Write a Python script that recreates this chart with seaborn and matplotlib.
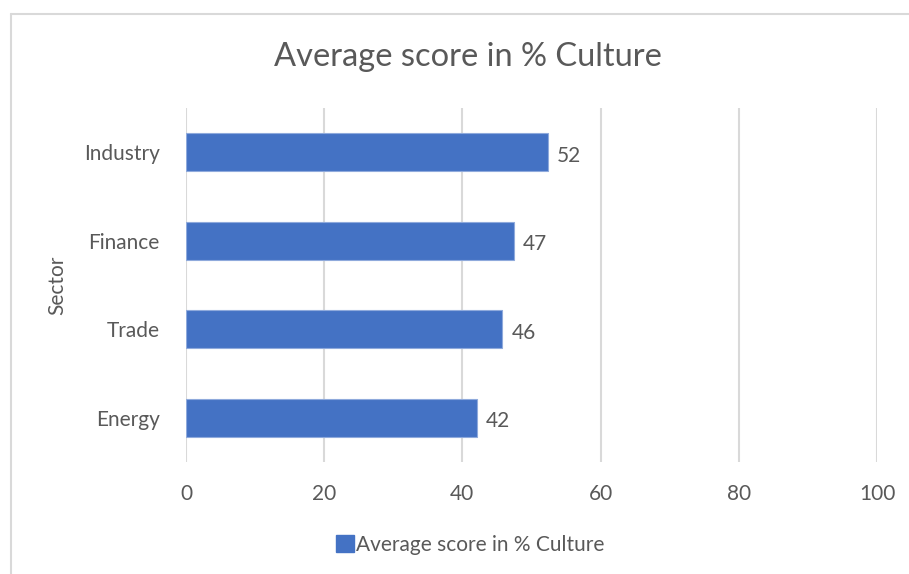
import matplotlib
matplotlib.use("Agg")
import matplotlib.pyplot as plt
from matplotlib.lines import Line2D
from matplotlib.patches import Patch
import seaborn as sns
import pandas as pd

sectors = ["Industry", "Finance", "Trade", "Energy"]
scores = [52.4, 47.4, 45.8, 42.1]
labels = ["52", "47", "46", "42"]
xticks = [0, 20, 40, 60, 80, 100]
title = "Average score in % Culture"
series_name = "Average score in % Culture"

sns.set_theme(style="white")
plt.rcParams["font.family"] = ["Lato", "DejaVu Sans"]
txt = "#595959"
fs = 15

df = pd.DataFrame({"Sector": sectors, "Score": scores})

fig = plt.figure(figsize=(9.09, 5.74), dpi=100)
ax = fig.add_axes([186/909, 1 - 462/574, (877-186)/909, (462-108)/574])

sns.barplot(data=df, y="Sector", x="Score", order=sectors, color="#4472C4",
            width=0.43, ax=ax, edgecolor="#8FAADC", linewidth=0.8, zorder=3,
            saturation=1)

ax.set_xlim(0, 100)
ax.set_ylim(3.5, -0.5)
ax.set_xticks(xticks)
ax.set_xticklabels([str(t) for t in xticks], fontsize=fs, color=txt)
ax.tick_params(axis="x", length=0, pad=16)
ax.tick_params(axis="y", length=0, pad=19, labelsize=fs, labelcolor=txt)
ax.grid(axis="x", color="#d9d9d9", linewidth=1.5, zorder=0)
for s in ax.spines.values():
    s.set_visible(False)
ax.set_xlabel("")
ax.set_ylabel("Sector", fontsize=fs, color=txt, labelpad=12)

for i, (v, lab) in enumerate(zip(scores, labels)):
    ax.text(v + 1.3, i + 0.04, lab, va="center", ha="left", fontsize=fs, color=txt)

fig.text(468/909, 1 - 57/574, title, ha="center", va="center", fontsize=23.5, color=txt)

handle = Patch(facecolor="#4472C4", edgecolor="#4472C4")
fig.legend(handles=[handle], labels=[series_name], loc="center",
           bbox_to_anchor=(470/909, 1 - 545/574), frameon=False, fontsize=fs,
           labelcolor=txt, handlelength=0.85, handleheight=0.85, handletextpad=0.1)

fig.add_artist(Line2D([11/909, 1.0], [1 - 14/574, 1 - 14/574], transform=fig.transFigure,
                      color="#d9d9d9", linewidth=1.5))
fig.add_artist(Line2D([11/909, 11/909], [0, 1 - 14/574], transform=fig.transFigure,
                      color="#d9d9d9", linewidth=1.5))

fig.savefig("out.png", dpi=100)
